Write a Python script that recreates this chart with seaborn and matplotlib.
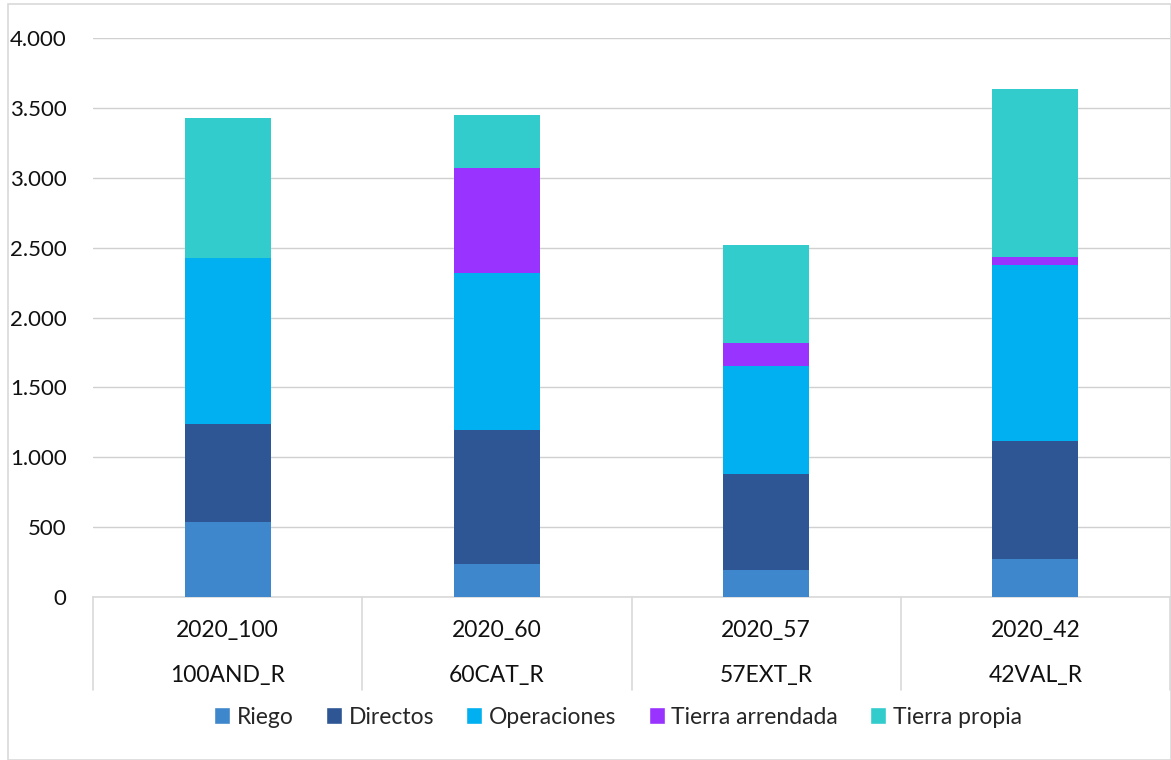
import matplotlib
matplotlib.use("Agg")
import matplotlib.pyplot as plt
from matplotlib.patches import Rectangle, Patch
from matplotlib.ticker import FuncFormatter
import numpy as np
import pandas as pd
import seaborn as sns

# data
years = ["2020_100", "2020_60", "2020_57", "2020_42"]
farms = ["100AND_R", "60CAT_R", "57EXT_R", "42VAL_R"]
series = ["Riego", "Directos", "Operaciones", "Tierra arrendada", "Tierra propia"]
riego = [535, 236, 193, 272]
directos = [700, 961, 685, 846]
operaciones = [1190, 1121, 772, 1257]
tierra_arrendada = [0, 752, 167, 60]
tierra_propia = [1002, 380, 702, 1200]
colors = ["#3E87CC", "#2E5594", "#00B0F0", "#9933FF", "#33CCCC"]

sns.set_theme(style="white")
plt.rcParams["font.family"] = ["Lato", "DejaVu Sans"]

df = pd.DataFrame({"farm": farms, "Riego": riego, "Directos": directos,
                   "Operaciones": operaciones, "Tierra arrendada": tierra_arrendada,
                   "Tierra propia": tierra_propia})
cum = df[series].cumsum(axis=1)

fig = plt.figure(figsize=(11.71, 7.6), dpi=100)
ax = fig.add_axes([93 / 1171, 1 - 597 / 760, (1170 - 93) / 1171, 559 / 760])

# stacked bars: draw the tallest cumulative layer first
for name, col in reversed(list(zip(series, colors))):
    sns.barplot(x=df["farm"], y=cum[name], color=col, width=0.32,
                saturation=1, ax=ax, zorder=3, linewidth=0)

ax.set_xlim(-0.5, 3.5)
ax.set_ylim(0, 4000)
ax.set_yticks(np.arange(0, 4001, 500))
ax.yaxis.set_major_formatter(FuncFormatter(lambda v, p: f"{int(v):,}".replace(",", ".")))
ax.tick_params(axis="y", labelsize=16, pad=19, length=0, colors="#111111")
ax.grid(axis="y", color="#d0d0d0", linewidth=1, zorder=0)
ax.set_axisbelow(True)
ax.set_xlabel("")
ax.set_ylabel("")
ax.set_xticks([])
for s in ["left", "right", "top"]:
    ax.spines[s].set_visible(False)
ax.spines["bottom"].set_color("#d9d9d9")
ax.spines["bottom"].set_linewidth(1.2)

# two-level category labels
trans = ax.get_xaxis_transform()
for i, (y, f) in enumerate(zip(years, farms)):
    ax.text(i, -0.06, y, transform=trans, ha="center", va="center", fontsize=16.5, color="#111111")
    ax.text(i, -0.14, f, transform=trans, ha="center", va="center", fontsize=16.5, color="#111111")
for b in np.arange(-0.5, 4, 1):
    ax.plot([b, b], [0, -0.167], transform=trans, color="#d9d9d9", lw=1.2, clip_on=False)

handles = [Patch(facecolor=c, label=n) for n, c in zip(series, colors)]
fig.legend(handles=handles, loc="center", bbox_to_anchor=(618 / 1171, 1 - 717 / 760),
           ncol=5, frameon=False, fontsize=16.5, handlelength=0.7, handleheight=0.7,
           handletextpad=0.3, columnspacing=1.4)

fig.patches.append(Rectangle((8 / 1171, 0), 1 - 8 / 1171, 1 - 4 / 760, transform=fig.transFigure,
                             fill=False, edgecolor="#d9d9d9", lw=1.2))

fig.savefig("out.png", dpi=100)
